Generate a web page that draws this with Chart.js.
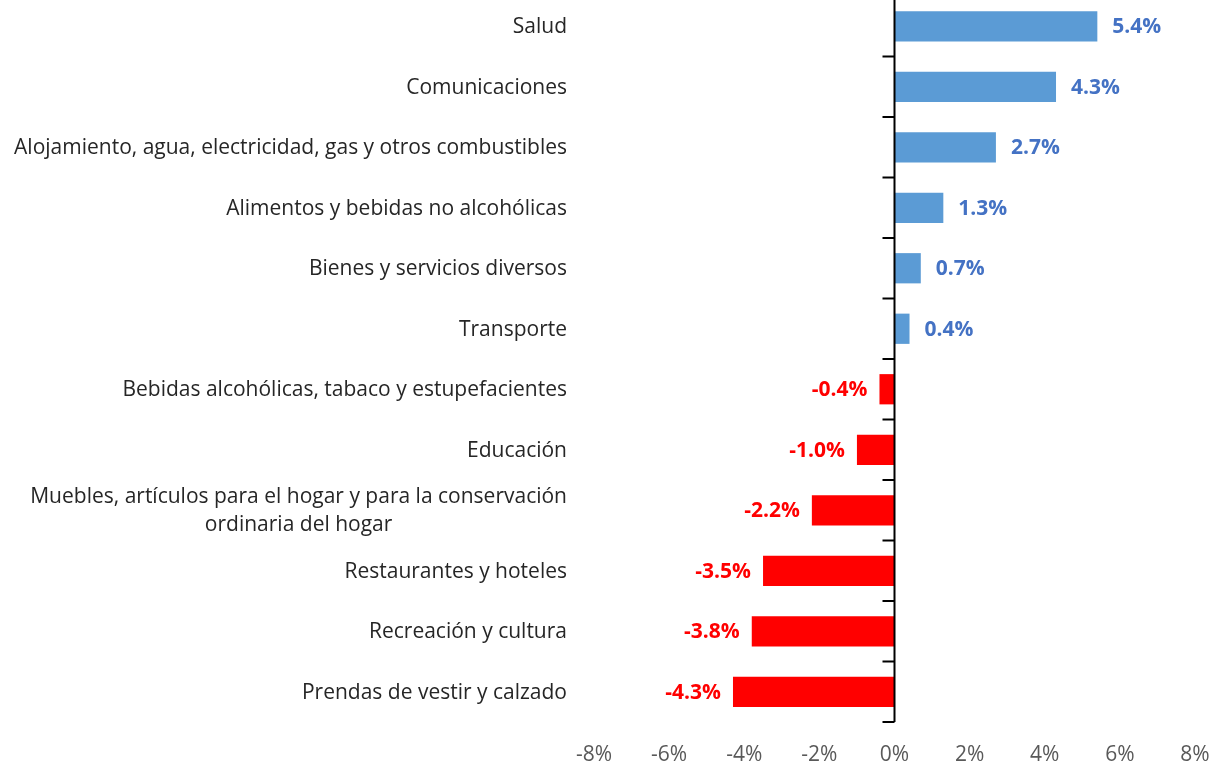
<!DOCTYPE html>
<html>
<head>
<meta charset="utf-8">
<script src="https://cdn.jsdelivr.net/npm/chart.js@4.4.1/dist/chart.umd.min.js"></script>
<style>
  html, body { margin: 0; padding: 0; background: #fff; }
  #wrap { width: 1216px; height: 766px; overflow: hidden; position: relative; }
  #chart { position: absolute; left: 0; top: -4px; }
</style>
</head>
<body>
<div id="wrap"><canvas id="chart" width="1216" height="770"></canvas></div>
<script>
// categories, top to bottom
const categories = [
  'Salud',
  'Comunicaciones',
  'Alojamiento, agua, electricidad, gas y otros combustibles',
  'Alimentos y bebidas no alcohólicas',
  'Bienes y servicios diversos',
  'Transporte',
  'Bebidas alcohólicas, tabaco y estupefacientes',
  'Educación',
  ['Muebles, artículos para el hogar y para la conservación', 'ordinaria del hogar'],
  'Restaurantes y hoteles',
  'Recreación y cultura',
  'Prendas de vestir y calzado'
];
// variation in %
const values = [5.4, 4.3, 2.7, 1.3, 0.7, 0.4, -0.4, -1.0, -2.2, -3.5, -3.8, -4.3];
const xTicks = [-8, -6, -4, -2, 0, 2, 4, 6, 8];

const FONT = '"Open Sans", "Liberation Sans", sans-serif';

// vertical axis at zero with tick marks between categories
const zeroAxis = {
  id: 'zeroAxis',
  afterDatasetsDraw(chart) {
    const ctx = chart.ctx;
    const area = chart.chartArea;
    const x0 = chart.scales.x.getPixelForValue(0);
    const step = (area.bottom - area.top) / categories.length;
    ctx.save();
    ctx.strokeStyle = '#000';
    ctx.lineWidth = 2;
    ctx.beginPath();
    ctx.moveTo(x0, area.top);
    ctx.lineTo(x0, area.bottom);
    for (let i = 0; i <= categories.length; i++) {
      const y = area.top + i * step;
      ctx.moveTo(x0 - 12, y);
      ctx.lineTo(x0, y);
    }
    ctx.stroke();
    ctx.restore();
  }
};

// value labels next to the bars
const valueLabels = {
  id: 'valueLabels',
  afterDatasetsDraw(chart) {
    const ctx = chart.ctx;
    const meta = chart.getDatasetMeta(0);
    ctx.save();
    ctx.font = 'bold 21px ' + FONT;
    ctx.textBaseline = 'middle';
    meta.data.forEach((bar, i) => {
      const v = values[i];
      const txt = v.toFixed(1) + '%';
      if (v >= 0) {
        ctx.fillStyle = '#4472C4';
        ctx.textAlign = 'left';
        ctx.fillText(txt, bar.x + 15, bar.y + 1);
      } else {
        ctx.fillStyle = '#FF0000';
        ctx.textAlign = 'right';
        ctx.fillText(txt, bar.x - 12, bar.y + 1);
      }
    });
    ctx.restore();
  }
};

// category names, right aligned block, lines centred inside (like Excel)
const categoryLabels = {
  id: 'categoryLabels',
  afterDraw(chart) {
    const ctx = chart.ctx;
    const yScale = chart.scales.y;
    const right = 567;
    const lh = 28;
    ctx.save();
    ctx.font = '21px ' + FONT;
    ctx.fillStyle = '#262626';
    ctx.textBaseline = 'middle';
    ctx.textAlign = 'center';
    categories.forEach((c, i) => {
      const lines = Array.isArray(c) ? c : [c];
      const w = Math.max(...lines.map(l => ctx.measureText(l).width));
      const cx = right - w / 2;
      const yc = yScale.getPixelForTick(i);
      lines.forEach((l, j) => {
        const y = yc + (j - (lines.length - 1) / 2) * lh;
        ctx.fillText(l, cx, y + 1);
      });
    });
    ctx.restore();
  }
};

new Chart(document.getElementById('chart'), {
  type: 'bar',
  data: {
    labels: categories,
    datasets: [{
      data: values,
      backgroundColor: values.map(v => v >= 0 ? '#5B9BD5' : '#FF0000'),
      borderWidth: 0,
      barPercentage: 0.5,
      categoryPercentage: 1.0
    }]
  },
  options: {
    indexAxis: 'y',
    responsive: false,
    devicePixelRatio: 1,
    animation: false,
    layout: { padding: { left: 0, right: 21, top: 0, bottom: 0 } },
    plugins: {
      legend: { display: false },
      tooltip: { enabled: false },
      title: { display: false }
    },
    scales: {
      x: {
        min: -8,
        max: 8,
        afterBuildTicks(scale) {
          scale.ticks = xTicks.map(v => ({ value: v }));
        },
        afterFit(scale) {
          scale.height = 44;
          scale.paddingLeft = 0;
          scale.paddingRight = 0;
        },
        grid: { display: false, drawTicks: false },
        border: { display: false },
        ticks: {
          padding: 20,
          color: '#595959',
          font: { family: FONT, size: 21 },
          callback: v => v + '%'
        }
      },
      y: {
        afterFit(scale) { scale.width = 594; },
        grid: { display: false },
        border: { display: false },
        ticks: { display: false }
      }
    }
  },
  plugins: [zeroAxis, valueLabels, categoryLabels]
});
</script>
</body>
</html>
